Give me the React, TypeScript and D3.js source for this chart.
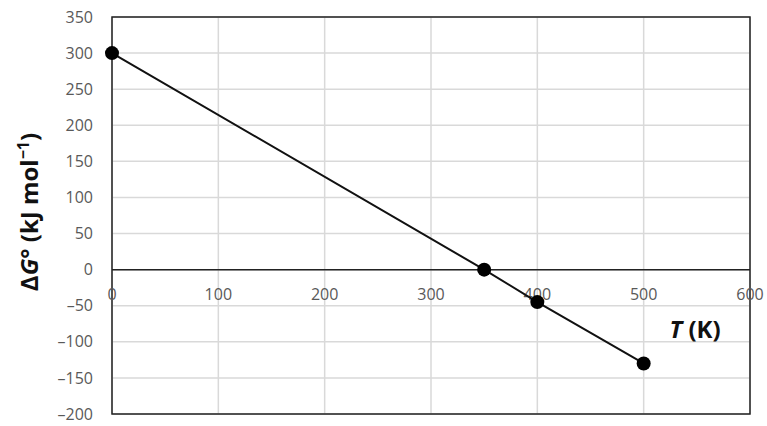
import React, { useEffect, useRef } from "react";
import * as d3 from "d3";

// temperature (K) and standard free energy (kJ/mol)
const temps = [0, 350, 400, 500];
const dG = [300, 0, -45, -130];
const xTicks = [0, 100, 200, 300, 400, 500, 600];
const yTicks = [-200, -150, -100, -50, 0, 50, 100, 150, 200, 250, 300, 350];

const fmt = (d: number) => (d < 0 ? "\u2013" + Math.abs(d) : String(d));

const App = () => {
  const svgRef = useRef(null);

  useEffect(() => {
    const svg = d3.select(svgRef.current);
    svg.selectAll("*").remove();

    const margin = { top: 17, right: 17, bottom: 12, left: 112 };
    const W = 767;
    const H = 426;
    const width = W - margin.left - margin.right;
    const height = H - margin.top - margin.bottom;

    const g = svg
      .append("g")
      .attr("transform", `translate(${margin.left},${margin.top})`);

    const x = d3.scaleLinear().domain([0, 600]).range([0, width]);
    const y = d3.scaleLinear().domain([-200, 350]).range([height, 0]);

    // grid lines
    g.append("g")
      .selectAll("line")
      .data(yTicks)
      .join("line")
      .attr("x1", 0)
      .attr("x2", width)
      .attr("y1", (d) => y(d))
      .attr("y2", (d) => y(d))
      .attr("stroke", "#d9d9d9")
      .attr("stroke-width", 1.5);

    g.append("g")
      .selectAll("line")
      .data(xTicks)
      .join("line")
      .attr("x1", (d) => x(d))
      .attr("x2", (d) => x(d))
      .attr("y1", 0)
      .attr("y2", height)
      .attr("stroke", "#d9d9d9")
      .attr("stroke-width", 1.5);

    // plot frame
    g.append("rect")
      .attr("width", width)
      .attr("height", height)
      .attr("fill", "none")
      .attr("stroke", "#222")
      .attr("stroke-width", 1.5);

    // zero line
    g.append("line")
      .attr("x1", 0)
      .attr("x2", width)
      .attr("y1", y(0))
      .attr("y2", y(0))
      .attr("stroke", "#222")
      .attr("stroke-width", 1.5);

    // tick labels
    g.append("g")
      .selectAll("text")
      .data(yTicks)
      .join("text")
      .attr("x", -19)
      .attr("y", (d) => y(d))
      .attr("dy", "0.35em")
      .attr("text-anchor", "end")
      .attr("fill", "#595959")
      .style("font-family", "'Open Sans', sans-serif")
      .style("font-size", "16px")
      .text(fmt);

    g.append("g")
      .selectAll("text")
      .data(xTicks)
      .join("text")
      .attr("x", (d) => x(d))
      .attr("y", y(0) + 30)
      .attr("text-anchor", "middle")
      .attr("fill", "#595959")
      .style("font-family", "'Open Sans', sans-serif")
      .style("font-size", "16px")
      .text(fmt);

    // data line + markers
    const pts = temps.map((t, i) => [t, dG[i]] as [number, number]);
    const line = d3
      .line<[number, number]>()
      .x((d) => x(d[0]))
      .y((d) => y(d[1]));

    g.append("path")
      .datum(pts)
      .attr("fill", "none")
      .attr("stroke", "#111")
      .attr("stroke-width", 2)
      .attr("d", line);

    g.append("g")
      .selectAll("circle")
      .data(pts)
      .join("circle")
      .attr("cx", (d) => x(d[0]))
      .attr("cy", (d) => y(d[1]))
      .attr("r", 7)
      .attr("fill", "#000");

    // axis titles
    const yt = svg
      .append("text")
      .attr("transform", `translate(38,${212}) rotate(-90)`)
      .attr("text-anchor", "middle")
      .attr("fill", "#111")
      .style("font-family", "'Open Sans', sans-serif")
      .style("font-size", "24px")
      .style("font-weight", "bold");
    yt.append("tspan").text("\u0394");
    yt.append("tspan").style("font-style", "italic").text("G");
    yt.append("tspan").text("\u00b0 (kJ mol");
    yt.append("tspan").attr("dy", -9).style("font-size", "16px").text("\u22121");
    yt.append("tspan").attr("dy", 9).text(")");

    const xt = svg
      .append("text")
      .attr("x", 695)
      .attr("y", 338)
      .attr("text-anchor", "middle")
      .attr("fill", "#111")
      .style("font-family", "'Open Sans', sans-serif")
      .style("font-size", "24px")
      .style("font-weight", "bold");
    xt.append("tspan").style("font-style", "italic").text("T");
    xt.append("tspan").text(" (K)");
  }, []);

  return (
    <div style={{ position: "absolute", left: 0, top: 0, background: "#fff" }}>
      <svg ref={svgRef} width={767} height={426} style={{ display: "block" }} />
    </div>
  );
};

export default App;
